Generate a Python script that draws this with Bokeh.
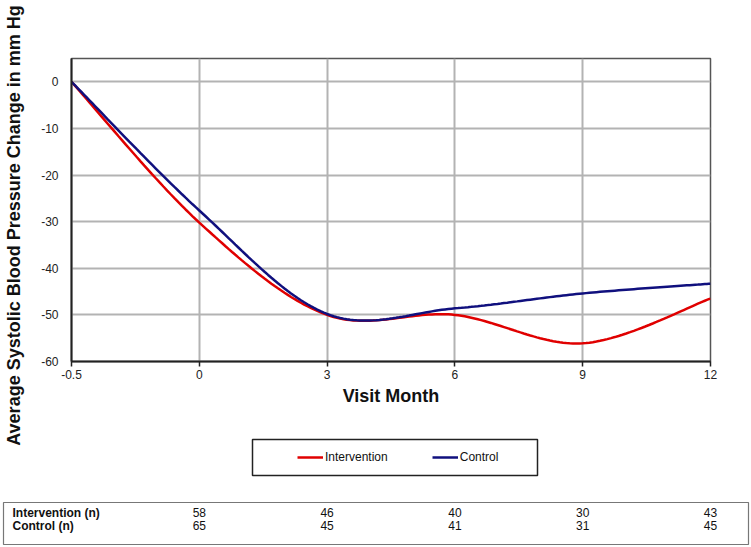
import numpy as np
from bokeh.plotting import figure
from bokeh.layouts import column, row
from bokeh.models import (FixedTicker, Label, BoxAnnotation, Legend, LegendItem,
                          Range1d)
from bokeh.embed import file_html
from bokeh.resources import INLINE

# ---- data ----
months = ["-0.5", "0", "3", "6", "9", "12"]
intervention = [0.0, -30.2, -50.0, -50.0, -56.1, -46.5]
control = [0.0, -27.6, -49.8, -48.6, -45.4, -43.3]
n_intervention = [58, 46, 40, 30, 43]
n_control = [65, 45, 41, 31, 45]
row_labels = ["Intervention (n)", "Control (n)"]
y_ticks = [-60, -50, -40, -30, -20, -10, 0]

FONT = "Liberation Sans"
RED = "#e00000"
NAVY = "#10107e"
TXT = "#111111"


def smooth(ys, steps=40):
    """Excel-style smoothed line (cubic Bezier through each point)."""
    pts = np.column_stack([np.arange(len(ys), dtype=float), np.asarray(ys, float)])
    n = len(pts)
    t = np.linspace(0, 1, steps)[:, None]
    out = []
    for i in range(n - 1):
        p0, p3 = pts[i], pts[i + 1]
        pm, pn = pts[max(i - 1, 0)], pts[min(i + 2, n - 1)]
        c1 = p0 + (p3 - pm) / 6.0
        c2 = p3 - (pn - p0) / 6.0
        b = ((1 - t) ** 3) * p0 + 3 * (1 - t) ** 2 * t * c1 + 3 * (1 - t) * t ** 2 * c2 + t ** 3 * p3
        out.append(b if i == 0 else b[1:])
    arr = np.vstack(out)
    return arr[:, 0], arr[:, 1]


def blank(width, height, x_range=None, y_range=None, **borders):
    f = figure(width=width, height=height, output_backend="svg", toolbar_location=None,
               x_range=x_range or Range1d(0, width), y_range=y_range or Range1d(0, height),
               x_axis_location=None, y_axis_location=None, **borders)
    f.grid.visible = False
    f.outline_line_color = None
    f.background_fill_color = "white"
    f.border_fill_color = "white"
    return f


# ---------------- main chart ----------------
LEFT, RIGHT, TOP, BOTTOM = 45, 41, 58, 49
p = figure(width=725, height=410, output_backend="svg", toolbar_location=None,
           x_range=Range1d(0, len(months) - 1), y_range=Range1d(-60, 5),
           min_border_left=LEFT, min_border_right=RIGHT, min_border_top=TOP,
           min_border_bottom=BOTTOM)
p.background_fill_color = "white"
p.border_fill_color = "white"
p.outline_line_color = "#555555"
p.outline_line_width = 1.5

p.xaxis.ticker = FixedTicker(ticks=list(range(len(months))))
p.xaxis.major_label_overrides = {i: m for i, m in enumerate(months)}
p.yaxis.ticker = FixedTicker(ticks=y_ticks)
p.yaxis.major_label_overrides = {t: str(t) for t in y_ticks}
for ax in (p.xaxis, p.yaxis):
    ax.axis_line_color = "#222222"
    ax.axis_line_width = 2
    ax.major_label_text_font = FONT
    ax.major_label_text_font_size = "12px"
    ax.major_label_text_color = "#222222"
    ax.minor_tick_line_color = None
    ax.major_tick_in = 0
p.xaxis.major_tick_out = 5
p.xaxis.major_tick_line_color = "#222222"
p.xaxis.major_tick_line_width = 1.5
p.xaxis.major_label_standoff = 3
p.xaxis.axis_label = "Visit Month"
p.xaxis.axis_label_text_font = FONT
p.xaxis.axis_label_text_font_size = "18px"
p.xaxis.axis_label_text_font_style = "bold"
p.xaxis.axis_label_text_color = TXT
p.xaxis.axis_label_standoff = 4
p.yaxis.major_tick_out = 0
p.yaxis.major_label_standoff = 13

p.xgrid.ticker = FixedTicker(ticks=list(range(len(months))))
p.ygrid.ticker = FixedTicker(ticks=y_ticks)
for g in (p.xgrid, p.ygrid):
    g.grid_line_color = "#b3b3b3"
    g.grid_line_width = 2

xi, yi = smooth(intervention)
xc, yc = smooth(control)
p.line(xi, yi, line_color=RED, line_width=2.5)
p.line(xc, yc, line_color=NAVY, line_width=2.5)

# ---------------- y-axis title strip ----------------
ylab = blank(26, 490, min_border=0)
ylab.add_layout(Label(x=13, y=265, x_units="screen", y_units="screen",
                      text="Average Systolic Blood Pressure Change in mm Hg",
                      angle=np.pi / 2, text_align="center", text_baseline="middle",
                      text_font=FONT, text_font_size="18px", text_font_style="bold",
                      text_color=TXT))

# ---------------- legend strip (frame aligned with the chart frame) ----------------
leg = blank(725, 80, x_range=Range1d(0, 639), y_range=Range1d(0, 80),
            min_border_left=LEFT, min_border_right=RIGHT,
            min_border_top=0, min_border_bottom=0)
leg.add_layout(BoxAnnotation(left=181, right=466, bottom=15, top=51,
                             fill_alpha=0, line_color="#222222", line_alpha=1.0,
                             line_width=1.5))
# off-range stand-ins that only supply the legend swatches
li = leg.line([-1000, -999], [-1000, -1000], line_color=RED, line_width=2.5)
lc = leg.line([-1000, -999], [-1000, -1000], line_color=NAVY, line_width=2.5)
legend = Legend(items=[LegendItem(label="Intervention", renderers=[li]),
                       LegendItem(label="Control", renderers=[lc])],
                orientation="horizontal", location=(226, 23),
                padding=0, margin=0, spacing=44, label_standoff=2,
                glyph_width=26, glyph_height=20, label_height=20,
                border_line_color=None, background_fill_alpha=0,
                label_text_font=FONT, label_text_font_size="12px",
                label_text_color=TXT)
leg.add_layout(legend)

# ---------------- n table ----------------
ppu = 639.0 / (len(months) - 1)           # pixels per category in the chart
tab = blank(751, 57, x_range=Range1d(-71.0 / ppu, (751 - 71.0) / ppu),
            y_range=Range1d(0, 57), min_border=0)
tab.add_layout(BoxAnnotation(left=3, right=748, bottom=3, top=45,
                             left_units="screen", right_units="screen",
                             bottom_units="screen", top_units="screen",
                             fill_alpha=0, line_color="#777777", line_alpha=1.0,
                             line_width=1.2))
for lab, yy, vals in zip(row_labels, [35, 22], [n_intervention, n_control]):
    tab.add_layout(Label(x=12, y=yy, x_units="screen", y_units="screen", text=lab,
                         text_align="left", text_baseline="middle", text_font=FONT,
                         text_font_size="12px", text_font_style="bold",
                         text_color=TXT))
    tab.text(x=list(range(1, len(vals) + 1)), y=[yy] * len(vals),
             text=[str(v) for v in vals], text_align="center",
             text_baseline="middle", text_font={"value": FONT},
             text_font_size="12px", text_color=TXT)

layout = column(row(ylab, column(p, leg, spacing=0), spacing=0), tab, spacing=0)
open("out.html", "w").write(file_html(layout, INLINE))
